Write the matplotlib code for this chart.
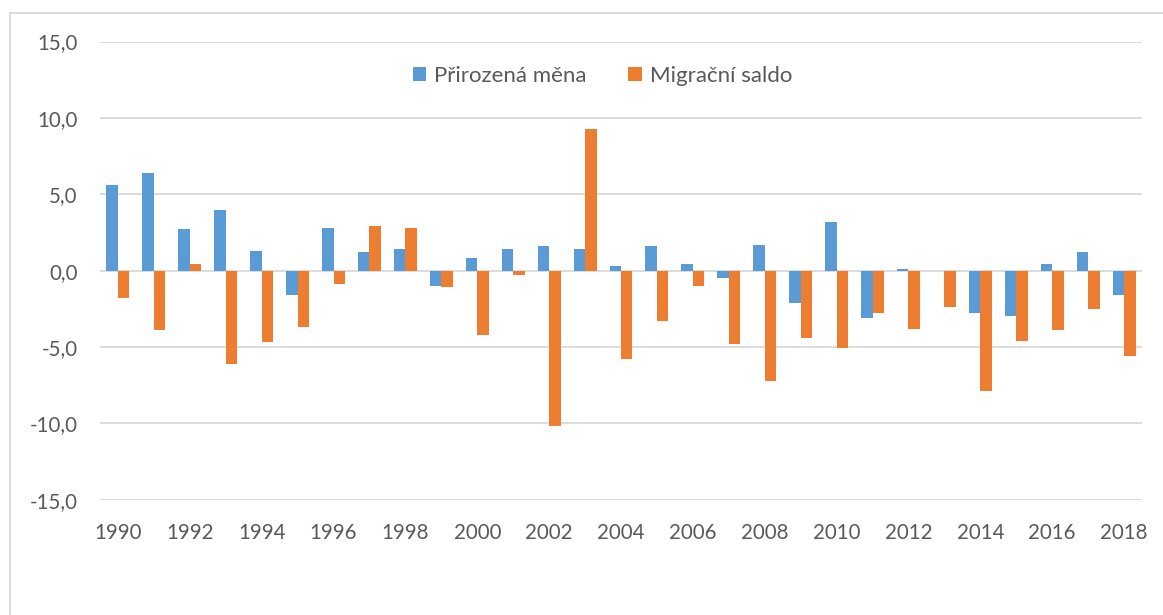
import numpy as np
import matplotlib.pyplot as plt
from matplotlib.lines import Line2D

years = list(range(1990, 2019))
prirozena = [5.6, 6.4, 2.7, 4.0, 1.3, -1.6, 2.8, 1.2, 1.4, -1.0, 0.8, 1.4, 1.6, 1.4, 0.3,
             1.6, 0.4, -0.5, 1.7, -2.1, 3.2, -3.1, 0.1, 0.0, -2.8, -3.0, 0.4, 1.2, -1.6]
migracni = [-1.8, -3.9, 0.4, -6.1, -4.7, -3.7, -0.9, 2.9, 2.8, -1.1, -4.2, -0.3, -10.2, 9.3, -5.8,
            -3.3, -1.0, -4.8, -7.2, -4.4, -5.1, -2.8, -3.8, -2.4, -7.9, -4.6, -3.9, -2.5, -5.6]
series_names = ['Přirozená měna', 'Migrační saldo']

blue = '#5B9BD5'
orange = '#ED7D31'
grey_txt = '#595959'
grid_col = '#D9D9D9'

plt.rcParams['font.family'] = ['Lato', 'DejaVu Sans']

fig = plt.figure(figsize=(11.63, 6.15), dpi=100)
ax = fig.add_axes([100 / 1163, 1 - 499.7 / 615, 1042 / 1163, 458.2 / 615])

x = np.arange(len(years))
w = 0.32
ax.bar(x - w / 2, prirozena, w, color=blue, label=series_names[0], zorder=3)
ax.bar(x + w / 2, migracni, w, color=orange, label=series_names[1], zorder=3)

ax.set_xlim(-0.5, len(years) - 0.5)
ax.set_ylim(-15, 15)
ax.set_yticks(np.arange(-15, 16, 5))
ax.set_yticklabels([('%.1f' % v).replace('.', ',') for v in np.arange(-15, 16, 5)])
ax.set_xticks(x[::2])
ax.set_xticklabels([str(y) for y in years[::2]])

ax.grid(axis='y', color=grid_col, linewidth=1.3, zorder=0)
for s in ax.spines.values():
    s.set_visible(False)
ax.tick_params(length=0, labelsize=14.8, labelcolor=grey_txt)
ax.tick_params(axis='y', pad=16)
ax.tick_params(axis='x', pad=17)

ax.legend(loc='center', bbox_to_anchor=(0.482, 0.925), ncol=2, frameon=False,
          fontsize=16, labelcolor=grey_txt, handlelength=0.6, handleheight=0.6,
          handletextpad=0.35, columnspacing=1.9)

# chart frame (cut off at right and bottom)
fig.add_artist(Line2D([10 / 1163, 1], [1 - 13 / 615] * 2, color=grid_col, linewidth=1.3))
fig.add_artist(Line2D([10 / 1163] * 2, [0, 1 - 13 / 615], color=grid_col, linewidth=1.3))

fig.savefig('out.png', dpi=100)
